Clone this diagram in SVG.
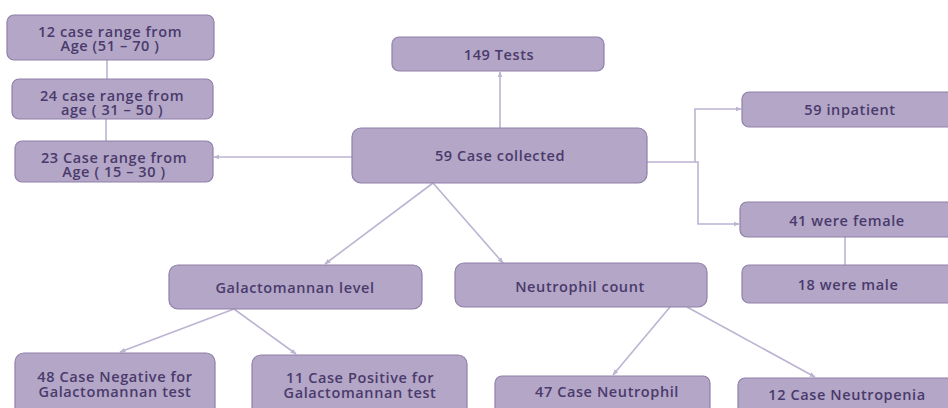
<svg xmlns="http://www.w3.org/2000/svg" width="948" height="408" viewBox="0 0 948 408">
<defs>
<style>
.box{fill:#b3a6c6;stroke:#8f80a8;stroke-width:1.2}
.t{font-family:"Open Sans","Liberation Sans",sans-serif;font-weight:600;font-size:14.5px;letter-spacing:0.6px;fill:#4a3a6c;text-anchor:middle}
.c{fill:none;stroke:#bdb3d2;stroke-width:1.6}
</style>
<marker id="ah" viewBox="0 0 10 10" refX="9" refY="5" markerWidth="6" markerHeight="6" orient="auto" markerUnits="userSpaceOnUse">
<path d="M0,1 L10,5 L0,9 z" fill="#bdb3d2"/>
</marker>
</defs>
<rect width="948" height="408" fill="#ffffff"/>
<g id="connectors">
<line class="c" x1="107" y1="60" x2="107" y2="79"/>
<line class="c" x1="106" y1="119" x2="106" y2="141"/>
<line class="c" x1="352" y1="157" x2="214" y2="157" marker-end="url(#ah)"/>
<line class="c" x1="500" y1="128" x2="500" y2="72" marker-end="url(#ah)"/>
<polyline class="c" points="647,162 695,162 695,109 741,109" marker-end="url(#ah)"/>
<polyline class="c" points="695,162 698,162 698,224 739,224" marker-end="url(#ah)"/>
<line class="c" x1="845" y1="237" x2="845" y2="265"/>
<line class="c" x1="433" y1="183" x2="325" y2="264" marker-end="url(#ah)"/>
<line class="c" x1="433" y1="183" x2="503" y2="263" marker-end="url(#ah)"/>
<line class="c" x1="234" y1="309" x2="120" y2="352" marker-end="url(#ah)"/>
<line class="c" x1="234" y1="309" x2="296" y2="354" marker-end="url(#ah)"/>
<line class="c" x1="670" y1="307" x2="613" y2="375" marker-end="url(#ah)"/>
<line class="c" x1="687" y1="307" x2="815" y2="377" marker-end="url(#ah)"/>
</g>
<g id="n-age51">
<rect class="box" x="7" y="15" width="207" height="45" rx="7"/>
<text class="t" x="110" y="36.5">12 case range from</text>
<text class="t" x="110" y="50.5">Age (51 – 70 )</text>
</g>
<g id="n-age31">
<rect class="box" x="12" y="79" width="201" height="40" rx="7"/>
<text class="t" x="112" y="100.5">24 case range from</text>
<text class="t" x="112" y="114.5">age ( 31 – 50 )</text>
</g>
<g id="n-age15">
<rect class="box" x="15" y="141" width="198" height="41" rx="7"/>
<text class="t" x="114" y="163">23 Case range from</text>
<text class="t" x="114" y="177">Age ( 15 – 30 )</text>
</g>
<g id="n-tests">
<rect class="box" x="392" y="37" width="212" height="34" rx="7"/>
<text class="t" x="499" y="59.5">149 Tests</text>
</g>
<g id="n-collected">
<rect class="box" x="352" y="128" width="295" height="55" rx="9"/>
<text class="t" x="500" y="161">59  Case collected</text>
</g>
<g id="n-inpatient">
<rect class="box" x="742" y="92" width="216" height="35" rx="7"/>
<text class="t" x="850" y="114.5">59 inpatient</text>
</g>
<g id="n-female">
<rect class="box" x="740" y="202" width="218" height="35" rx="7"/>
<text class="t" x="847" y="226">41 were female</text>
</g>
<g id="n-male">
<rect class="box" x="742" y="265" width="216" height="38" rx="7"/>
<text class="t" x="848" y="289.5">18 were male</text>
</g>
<g id="n-galacto">
<rect class="box" x="169" y="265" width="253" height="44" rx="9"/>
<text class="t" x="295" y="293">Galactomannan level</text>
</g>
<g id="n-neutro">
<rect class="box" x="455" y="263" width="252" height="44" rx="9"/>
<text class="t" x="580" y="292">Neutrophil count</text>
</g>
<g id="n-neg">
<rect class="box" x="15" y="353" width="200" height="70" rx="9"/>
<text class="t" x="115" y="381.5">48 Case Negative  for</text>
<text class="t" x="115" y="396.5">Galactomannan test</text>
</g>
<g id="n-pos">
<rect class="box" x="252" y="355" width="215" height="70" rx="9"/>
<text class="t" x="360" y="383">11 Case Positive for</text>
<text class="t" x="360" y="398">Galactomannan test</text>
</g>
<g id="n-neutrophil">
<rect class="box" x="495" y="376" width="215" height="50" rx="7"/>
<text class="t" x="607" y="397">47 Case Neutrophil</text>
</g>
<g id="n-neutropenia">
<rect class="box" x="738" y="378" width="220" height="50" rx="7"/>
<text class="t" x="847" y="399.5">12 Case Neutropenia</text>
</g>
</svg>
